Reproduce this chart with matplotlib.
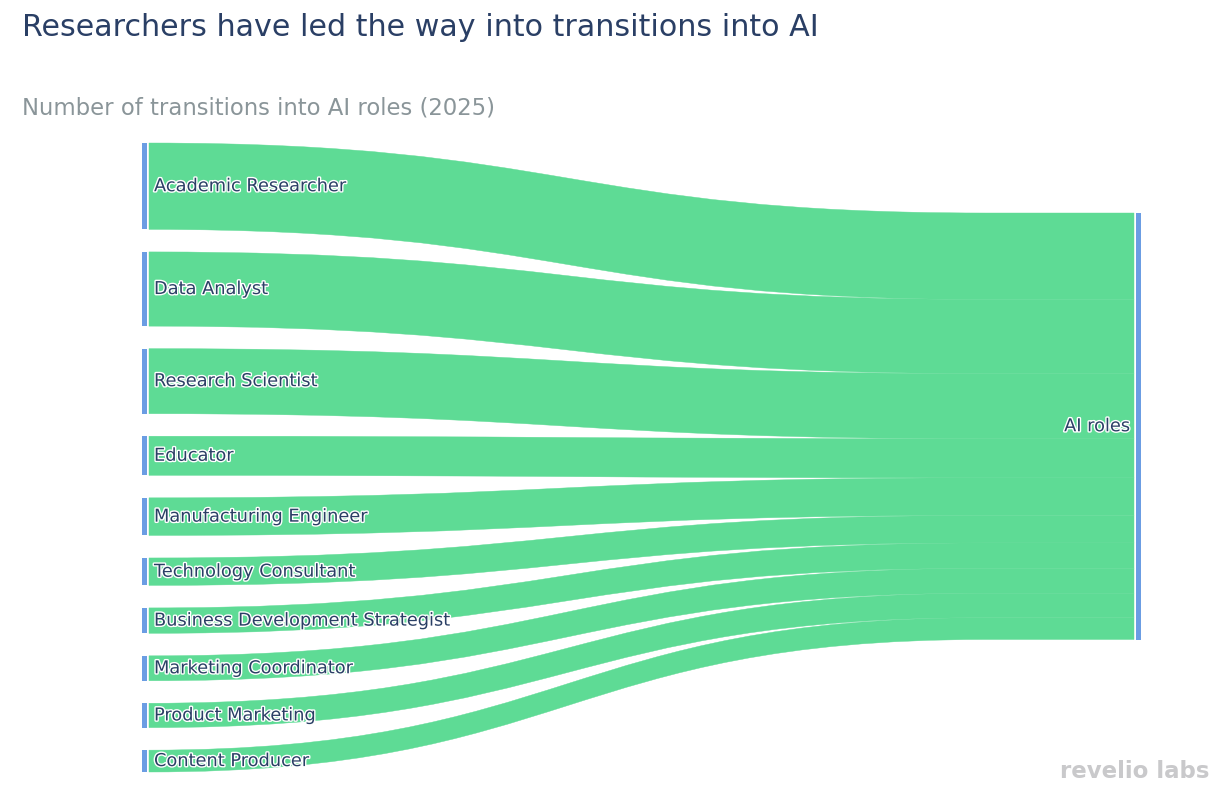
import numpy as np
import matplotlib.pyplot as plt
from matplotlib.path import Path
from matplotlib.patches import PathPatch, Rectangle
import matplotlib.patheffects as pe

# data
sources = ['Academic Researcher', 'Data Analyst', 'Research Scientist', 'Educator',
           'Manufacturing Engineer', 'Technology Consultant',
           'Business Development Strategist', 'Marketing Coordinator',
           'Product Marketing', 'Content Producer']
values = [850, 730, 640, 385, 370, 270, 250, 245, 240, 215]
target = 'AI roles'

title = 'Researchers have led the way into transitions into AI'
subtitle = 'Number of transitions into AI roles (2025)'

GREEN = '#5edb95'
BLUE = '#6b9de3'
NAVY = '#2a3f65'

W, H = 1230, 801
fig = plt.figure(figsize=(W / 100, H / 100), dpi=100)
ax = fig.add_axes([0, 0, 1, 1])
ax.set_xlim(0, W)
ax.set_ylim(H, 0)
ax.axis('off')

# layout (pixels)
left_x0, left_x1 = 142, 147
link_x0, link_x1 = 149, 985
right_x0, right_x1 = 1136, 1141
top, bottom = 143, 772
right_top = 213
gap = 22.5

total = sum(values)
scale = (bottom - top - gap * (len(values) - 1)) / total
halo = [pe.withStroke(linewidth=2, foreground='white')]

y = top
ry = right_top
for name, v in zip(sources, values):
    h = v * scale
    # source node
    ax.add_patch(Rectangle((left_x0, y), left_x1 - left_x0, h, color=BLUE, lw=0))
    # link as bezier band
    xm = (link_x0 + link_x1) / 2
    verts = [(link_x0, y), (xm, y), (xm, ry), (link_x1, ry),
             (right_x0 - 2, ry), (right_x0 - 2, ry + h), (link_x1, ry + h),
             (xm, ry + h), (xm, y + h), (link_x0, y + h), (link_x0, y)]
    codes = [Path.MOVETO, Path.CURVE4, Path.CURVE4, Path.CURVE4,
             Path.LINETO, Path.LINETO, Path.LINETO,
             Path.CURVE4, Path.CURVE4, Path.CURVE4, Path.CLOSEPOLY]
    ax.add_patch(PathPatch(Path(verts, codes), facecolor=GREEN, edgecolor=GREEN,
                           lw=0.3, zorder=1))
    ax.text(left_x1 + 7, y + h / 2, name, ha='left', va='center', fontsize=12.8,
            color=NAVY, path_effects=halo, zorder=3)
    y += h + gap
    ry += h

# target node
ax.add_patch(Rectangle((right_x0, right_top), right_x1 - right_x0, ry - right_top,
                       color=BLUE, lw=0))
ax.text(right_x0 - 6, (right_top + ry) / 2, target, ha='right', va='center',
        fontsize=12.8, color=NAVY, path_effects=halo, zorder=3)

# titles
fig.text(22 / W, 1 - 28 / H, title, ha='left', va='center', fontsize=21.7,
         color=NAVY)
fig.text(22 / W, 1 - 108 / H, subtitle, ha='left', va='center', fontsize=16.4,
         color='#8a9599')
fig.text(1210 / W, 1 - 771 / H, 'revelio labs', ha='right', va='center',
         fontsize=16.5, fontweight='bold', color='#c9c9cb')

fig.savefig('out.png', dpi=100)
